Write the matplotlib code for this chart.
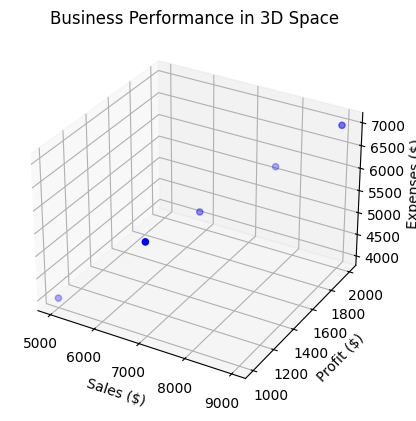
import matplotlib
matplotlib.use("Agg")
import matplotlib.pyplot as plt

sales = [5000, 6500, 7000, 8000, 9000]
profit = [1000, 1200, 1500, 1800, 2000]
expenses = [4000, 5300, 5500, 6200, 7000]

fig = plt.figure()
ax = fig.add_subplot(111, projection='3d')
ax.scatter(sales, profit, expenses, c='b', marker='o')
ax.set_xlabel('Sales ($)')
ax.set_ylabel('Profit ($)')
ax.set_zlabel('Expenses ($)')
ax.set_title('Business Performance in 3D Space')
fig.savefig('out.png', dpi=100, bbox_inches='tight')
